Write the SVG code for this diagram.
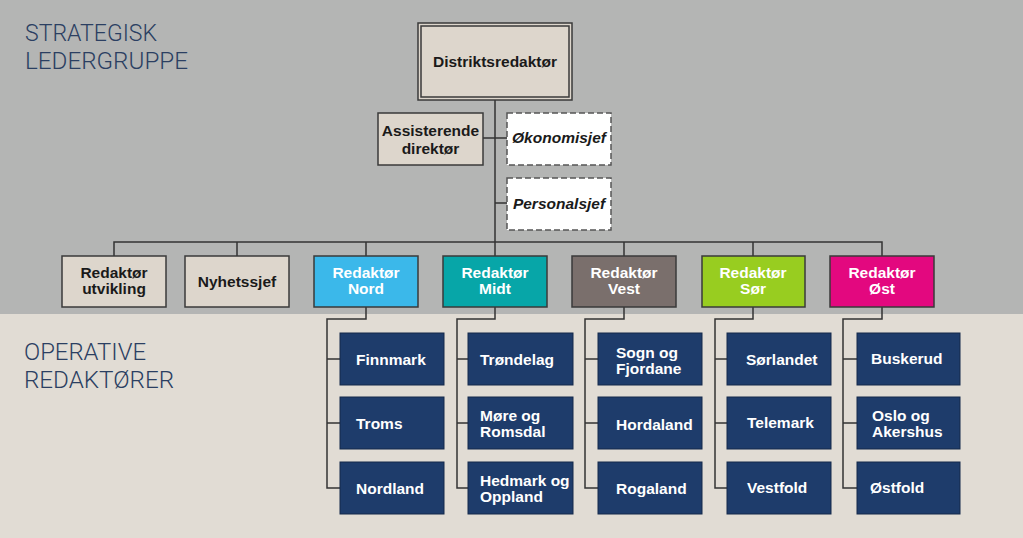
<svg xmlns="http://www.w3.org/2000/svg" width="1023" height="538" viewBox="0 0 1023 538">
<style>
.hdr{font-family:Roboto,"Liberation Sans",sans-serif;font-weight:300;font-size:24px;fill:#2b3f62}
.t{font-family:"Liberation Sans",Arial,sans-serif;font-weight:bold;font-size:15.5px}
.dk{fill:#1a1a1a;text-anchor:middle}
.wt{fill:#ffffff;text-anchor:middle}
.bt{fill:#ffffff}
.it{font-style:italic}
.beige{fill:#ddd6cc;stroke:#3a3a3a;stroke-width:1.5}
.dash{fill:#ffffff;stroke:#555;stroke-width:1.5;stroke-dasharray:6 3}
.col{stroke:#3a3a3a;stroke-width:1.5}
.blue{fill:#1e3c6b;stroke:#15294a;stroke-width:1}
.ln{fill:none;stroke:#333;stroke-width:1.5}
</style>
<rect x="0" y="0" width="1023" height="314" fill="#b4b5b4"/>
<rect x="0" y="314" width="1023" height="224" fill="#e1dcd4"/>
<text class="hdr" x="25" y="41" textLength="132" lengthAdjust="spacingAndGlyphs">STRATEGISK</text>
<text class="hdr" x="25" y="69" textLength="163" lengthAdjust="spacingAndGlyphs">LEDERGRUPPE</text>
<text class="hdr" x="24" y="360" textLength="122" lengthAdjust="spacingAndGlyphs">OPERATIVE</text>
<text class="hdr" x="24" y="388" textLength="150" lengthAdjust="spacingAndGlyphs">REDAKTØRER</text>
<g id="connectors">
<path class="ln" d="M495 100V242M483 138H507M495 203H507"/>
<path class="ln" d="M114 256V242H882V256M237 242V256M366 242V256M495 242V256M624 242V256M753 242V256"/>
<path class="ln" d="M366 307V319H327V488H340M327 359H340M327 423H340"/>
<path class="ln" d="M495 307V319H457V488H468M457 359H468M457 423H468"/>
<path class="ln" d="M624 307V319H585V488H598M585 359H598M585 423H598"/>
<path class="ln" d="M753 307V319H715V488H727M715 359H727M715 423H727"/>
<path class="ln" d="M882 307V319H843V488H857M843 359H857M843 423H857"/>
</g>
<g id="distriktsredaktor">
<rect x="418" y="23" width="154" height="77" fill="#ddd6cc" stroke="#3a3a3a" stroke-width="1.5"/>
<rect x="421" y="26" width="148" height="71" fill="none" stroke="#3a3a3a" stroke-width="1.5"/>
<text class="t dk" x="495" y="67">Distriktsredaktør</text>
</g>
<g id="assisterende">
<rect class="beige" x="378" y="113" width="105" height="52"/>
<text class="t dk" x="430.5" y="136">Assisterende</text>
<text class="t dk" x="430.5" y="154">direktør</text>
</g>
<g id="okonomisjef">
<rect class="dash" x="507" y="113" width="104" height="52"/>
<text class="t dk it" x="559" y="143">Økonomisjef</text>
</g>
<g id="personalsjef">
<rect class="dash" x="507" y="178" width="104" height="52"/>
<text class="t dk it" x="559" y="209">Personalsjef</text>
</g>
<g id="redaktor-utvikling">
<rect class="beige" x="62" y="256" width="104" height="51"/>
<text class="t dk" x="114" y="278">Redaktør</text>
<text class="t dk" x="114" y="294">utvikling</text>
</g>
<g id="nyhetssjef">
<rect class="beige" x="185" y="256" width="104" height="51"/>
<text class="t dk" x="237" y="287">Nyhetssjef</text>
</g>
<g id="redaktor-nord">
<rect class="col" x="314" y="256" width="104" height="51" fill="#3bb8ea"/>
<text class="t wt" x="366" y="278">Redaktør</text>
<text class="t wt" x="366" y="294">Nord</text>
</g>
<g id="redaktor-midt">
<rect class="col" x="443" y="256" width="104" height="51" fill="#07a6a8"/>
<text class="t wt" x="495" y="278">Redaktør</text>
<text class="t wt" x="495" y="294">Midt</text>
</g>
<g id="redaktor-vest">
<rect class="col" x="572" y="256" width="104" height="51" fill="#7a6f6c"/>
<text class="t wt" x="624" y="278">Redaktør</text>
<text class="t wt" x="624" y="294">Vest</text>
</g>
<g id="redaktor-sor">
<rect class="col" x="702" y="256" width="103" height="51" fill="#98cd20"/>
<text class="t wt" x="753" y="278">Redaktør</text>
<text class="t wt" x="753" y="294">Sør</text>
</g>
<g id="redaktor-ost">
<rect class="col" x="830" y="256" width="104" height="51" fill="#e3087f"/>
<text class="t wt" x="882" y="278">Redaktør</text>
<text class="t wt" x="882" y="294">Øst</text>
</g>
<g id="finnmark"><rect class="blue" x="340" y="333" width="104" height="52"/><text class="t bt" x="356" y="365">Finnmark</text></g>
<g id="troms"><rect class="blue" x="340" y="397" width="104" height="52"/><text class="t bt" x="356" y="429">Troms</text></g>
<g id="nordland"><rect class="blue" x="340" y="462" width="104" height="52"/><text class="t bt" x="356" y="494">Nordland</text></g>
<g id="trondelag"><rect class="blue" x="468" y="333" width="105" height="52"/><text class="t bt" x="480" y="365">Trøndelag</text></g>
<g id="more-og-romsdal"><rect class="blue" x="468" y="397" width="105" height="52"/><text class="t bt" x="480" y="421">Møre og</text><text class="t bt" x="480" y="437">Romsdal</text></g>
<g id="hedmark-og-oppland"><rect class="blue" x="468" y="462" width="105" height="52"/><text class="t bt" x="480" y="486">Hedmark og</text><text class="t bt" x="480" y="502">Oppland</text></g>
<g id="sogn-og-fjordane"><rect class="blue" x="598" y="333" width="104" height="52"/><text class="t bt" x="616" y="358">Sogn og</text><text class="t bt" x="616" y="374">Fjordane</text></g>
<g id="hordaland"><rect class="blue" x="598" y="397" width="104" height="52"/><text class="t bt" x="616" y="430">Hordaland</text></g>
<g id="rogaland"><rect class="blue" x="598" y="462" width="104" height="52"/><text class="t bt" x="616" y="494">Rogaland</text></g>
<g id="sorlandet"><rect class="blue" x="727" y="333" width="104" height="52"/><text class="t bt" x="746" y="365">Sørlandet</text></g>
<g id="telemark"><rect class="blue" x="727" y="397" width="104" height="52"/><text class="t bt" x="747" y="428">Telemark</text></g>
<g id="vestfold"><rect class="blue" x="727" y="462" width="104" height="52"/><text class="t bt" x="747" y="493">Vestfold</text></g>
<g id="buskerud"><rect class="blue" x="857" y="333" width="103" height="52"/><text class="t bt" x="871" y="364">Buskerud</text></g>
<g id="oslo-og-akershus"><rect class="blue" x="857" y="397" width="103" height="52"/><text class="t bt" x="872" y="421">Oslo og</text><text class="t bt" x="872" y="437">Akershus</text></g>
<g id="ostfold"><rect class="blue" x="857" y="462" width="103" height="52"/><text class="t bt" x="870" y="493">Østfold</text></g>
</svg>
